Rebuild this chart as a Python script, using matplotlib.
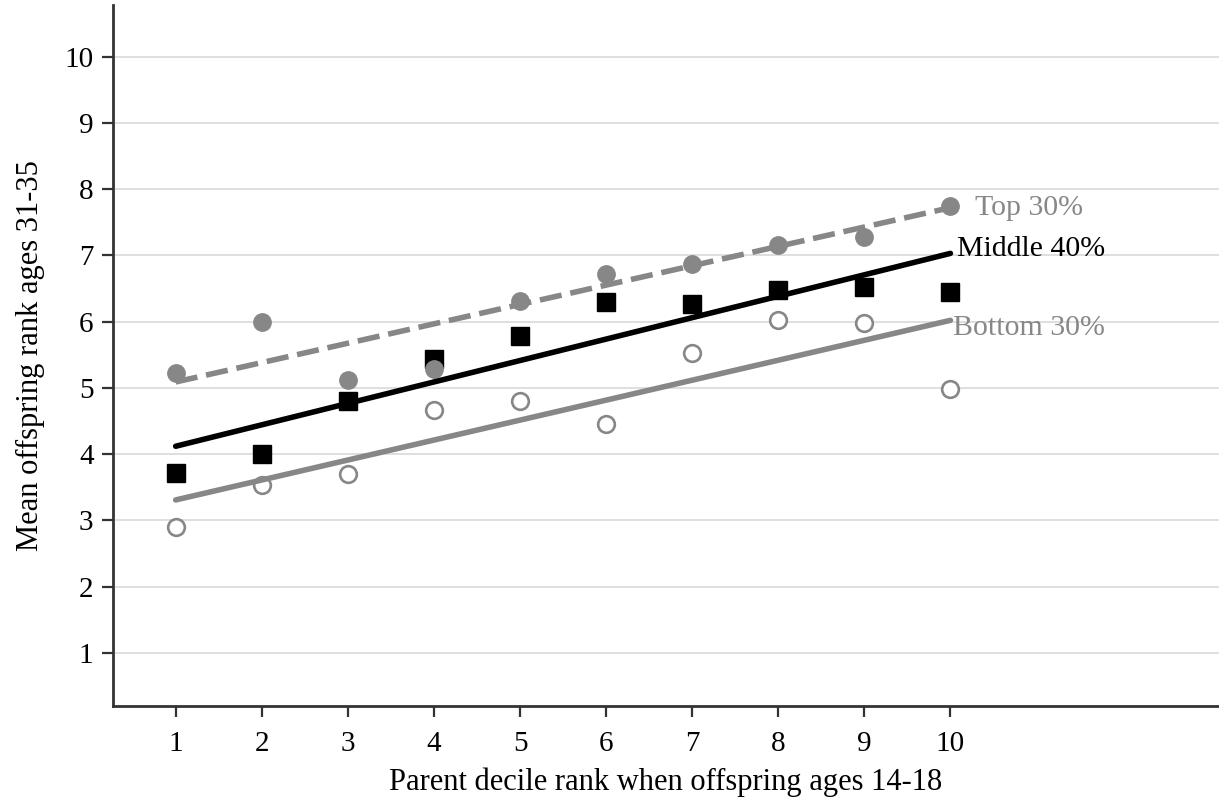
import matplotlib
matplotlib.use("Agg")
import matplotlib.pyplot as plt

deciles = [1, 2, 3, 4, 5, 6, 7, 8, 9, 10]

top30 = [5.22, 6.00, 5.12, 5.29, 6.31, 6.72, 6.87, 7.15, 7.28, 7.74]
middle40 = [3.71, 4.01, 4.80, 5.44, 5.79, 6.30, 6.26, 6.47, 6.52, 6.45]
bottom30 = [2.90, 3.54, 3.70, 4.67, 4.80, 4.45, 5.52, 6.02, 5.98, 4.99]

# fitted lines, endpoints
fit_x = [1, 10]
fit_top = [5.09, 7.72]
fit_middle = [4.12, 7.03]
fit_bottom = [3.31, 6.02]

plt.rcParams["font.family"] = ["Liberation Serif", "DejaVu Serif"]

GRAY = "#878787"

fig = plt.figure(figsize=(12.19, 8.02), dpi=100)
ax = fig.add_axes([0.0927, 0.120, 0.9073, 0.874])

ax.set_xlim(0.272, 13.12)
ax.set_ylim(0.205, 10.78)

ax.set_yticks(range(1, 11))
ax.set_xticks(deciles)
ax.yaxis.grid(True, color="#dcdcdc", linewidth=1.3)
ax.set_axisbelow(True)

for s in ["top", "right"]:
    ax.spines[s].set_visible(False)
for s in ["left", "bottom"]:
    ax.spines[s].set_color("#333333")
    ax.spines[s].set_linewidth(2)

ax.tick_params(axis="both", direction="out", length=8, width=1.6,
               color="#333333", labelsize=21)
ax.tick_params(axis="x", pad=10)
ax.tick_params(axis="y", pad=6)

# scatter points
ax.plot(deciles, bottom30, "o", ms=12, mfc="white", mec=GRAY, mew=1.9, zorder=3)
ax.plot(deciles, middle40, "s", ms=13, color="black", zorder=3)
ax.plot(deciles, top30, "o", ms=12.5, color=GRAY, zorder=3)

# fit lines
ax.plot(fit_x, fit_bottom, "-", color=GRAY, lw=4, solid_capstyle="round", zorder=4)
ax.plot(fit_x, fit_middle, "-", color="black", lw=4, solid_capstyle="round", zorder=4)
ax.plot(fit_x, fit_top, "--", color=GRAY, lw=4, dashes=(4, 1.6), zorder=4)

ax.text(10.29, 7.71, "Top 30%", color=GRAY, fontsize=21.5, va="center", ha="left")
ax.text(10.08, 7.10, "Middle 40%", color="black", fontsize=21.5, va="center", ha="left")
ax.text(10.03, 5.90, "Bottom 30%", color=GRAY, fontsize=21.5, va="center", ha="left")

ax.set_xlabel("Parent decile rank when offspring ages 14-18", fontsize=22, labelpad=8)
ax.set_ylabel("Mean offspring rank ages 31-35", fontsize=22, labelpad=14)

fig.savefig("out.png", dpi=100)
